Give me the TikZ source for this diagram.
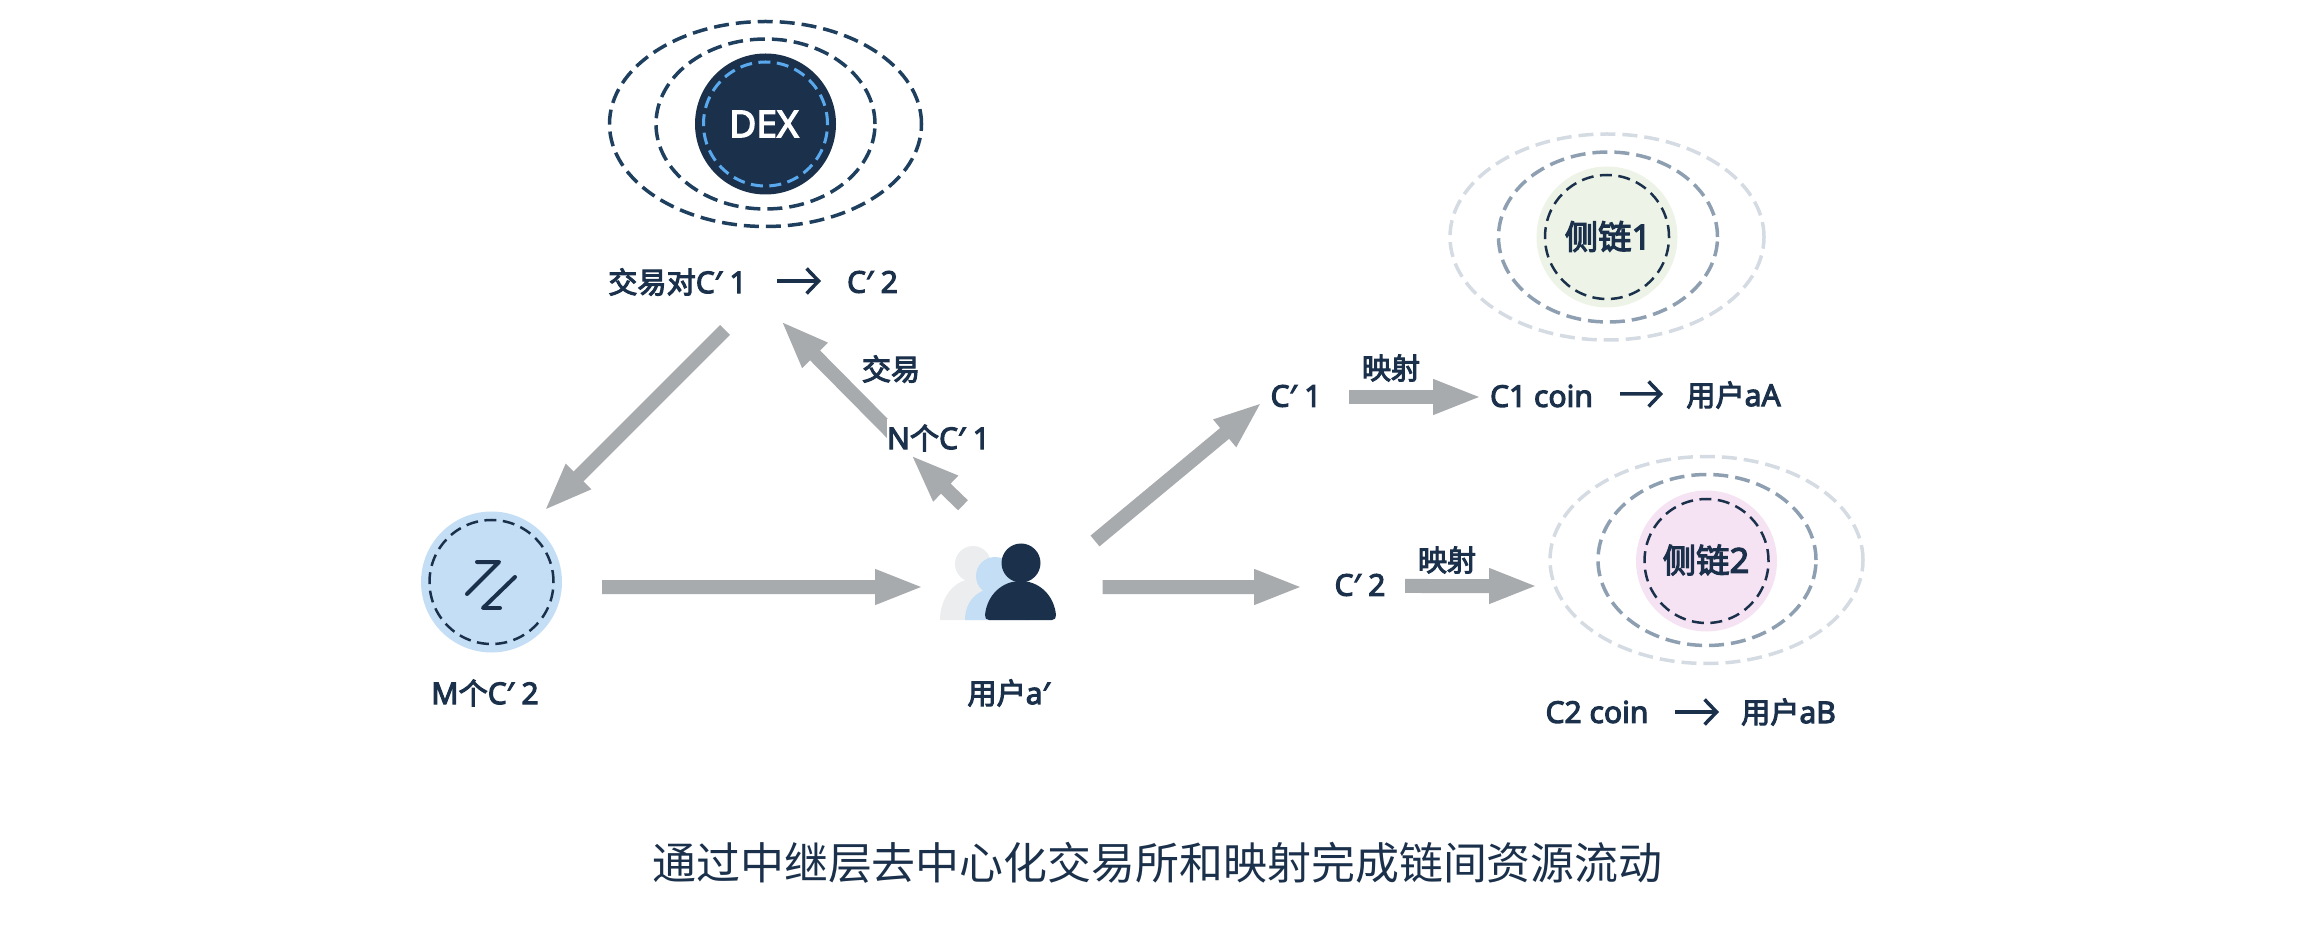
\documentclass[tikz,border=0pt]{standalone}
\usepackage{fontspec}
\setmainfont{Noto Sans}[Scale=1.03,FakeBold=3.5]
\newfontfamily\zhfont{Noto Sans CJK SC}[FakeBold=3.5]
\newfontfamily\titlefont{Noto Sans CJK SC}
\newcommand{\zh}[1]{{\zhfont #1}}
\newcommand{\pr}{′\kern2.2pt}
\usetikzlibrary{arrows.meta,positioning,backgrounds,shapes.geometric}
\definecolor{navy}{HTML}{1B314B}
\definecolor{ringnavy}{HTML}{1F3F5F}
\definecolor{ringblue}{HTML}{5AA9EE}
\definecolor{ringmid}{HTML}{8E9FB2}
\definecolor{ringpale}{HTML}{D5DBE2}
\definecolor{arrowgray}{HTML}{A8ABAE}
\definecolor{coinblue}{HTML}{C4DEF6}
\definecolor{sidegreen}{HTML}{EDF3E6}
\definecolor{sidepink}{HTML}{F5E2F2}
\definecolor{headgray}{HTML}{ECEDEE}
\tikzset{
    txt/.style={inner sep=0pt,text=navy,font=\fontsize{8.3pt}{9pt}\selectfont},
    sidetxt/.style={inner sep=0pt,text=navy,font=\fontsize{9.5pt}{11pt}\selectfont},
    disc/.style={circle,minimum size=1.41cm,inner sep=0pt,fill=#1},
    ring/.style={circle,minimum size=1.24cm,inner sep=0pt,draw=navy,line width=.025cm,dash pattern=on .12cm off .065cm},
    oval/.style={ellipse,inner sep=0pt,draw=#1,line width=.035cm,dash pattern=on .15cm off .07cm},
    bigarrow/.style={draw=arrowgray,line width=.14cm,shorten >=-.03cm,-{Triangle[length=.49cm,width=.32cm]}},
    thinarrow/.style={draw=navy,line width=.035cm,-{Straight Barb[length=.12cm,width=.25cm]}},
}
\begin{document}
\begin{tikzpicture}
\useasboundingbox (0,0) rectangle (23.09,9.29);

%DEX
\node[oval=ringnavy,minimum width=3.12cm,minimum height=2.05cm] (dexoval1) at (7.655,8.05) {};
\node[oval=ringnavy,minimum width=2.19cm,minimum height=1.70cm] (dexoval2) at (7.655,8.05) {};
\node[disc=navy] (dex) at (7.655,8.05) {};
\node[ring,draw=ringblue,line width=.03cm] (dexring) at (7.655,8.05) {};
\node[inner sep=0pt,text=white,font=\fontsize{10.25pt}{12pt}\selectfont] (dextxt) at (7.64,8.05) {DEX};
\node[txt] (pair1) at (6.775,6.47) {\zh{交易对}C\pr1};
\node[txt] (pair2) at (8.725,6.47) {C\pr2};

%coin
\node[disc=coinblue] (coin) at (4.915,3.47) {};
\node[ring] (coinring) at (4.915,3.47) {};
\draw[navy,line width=.04cm,line cap=round,line join=round] (4.77,3.67) -- (4.99,3.67) -- (4.67,3.35);
\draw[navy,line width=.04cm,line cap=round,line join=round] (5.15,3.52) -- (4.83,3.21) -- (5.00,3.21);
\node[txt] (coinlabel) at (4.85,2.36) {M\zh{个}C\pr2};

%user
\node[minimum width=1.16cm,minimum height=.76cm,inner sep=0pt] (user) at (9.98,3.465) {};
\fill[headgray] (9.73,3.65) circle (.18);
\fill[headgray] (9.40,3.09) .. controls (9.40,3.32) and (9.55,3.50) .. (9.73,3.50) .. controls (9.91,3.50) and (10.06,3.32) .. (10.06,3.09) -- cycle;
\fill[coinblue] (9.95,3.53) circle (.19);
\fill[coinblue] (9.65,3.09) .. controls (9.65,3.28) and (9.78,3.41) .. (9.97,3.41) .. controls (10.16,3.41) and (10.30,3.28) .. (10.30,3.09) -- cycle;
\fill[navy] (10.21,3.66) circle (.195);
\fill[navy] (9.85,3.14) .. controls (9.87,3.34) and (10.02,3.48) .. (10.205,3.48) .. controls (10.39,3.48) and (10.54,3.34) .. (10.56,3.14) .. controls (10.56,3.11) and (10.55,3.09) .. (10.52,3.09) -- (9.89,3.09) .. controls (9.86,3.09) and (9.85,3.11) .. (9.85,3.14) -- cycle;
\node[txt] (userlabel) at (10.085,2.36) {\zh{用户}a′};

%trade
\node[txt] (trade) at (8.91,5.60) {\zh{交易}};
\node[txt,fill=white,minimum height=.38cm] (nc) at (9.385,4.91) {N\zh{个}C\pr1};

%mapping
\node[txt] (c1) at (12.96,5.33) {C\pr1};
\node[txt] (c2) at (13.60,3.44) {C\pr2};
\node[txt] (map1) at (13.91,5.61) {\zh{映射}};
\node[txt] (map2) at (14.47,3.69) {\zh{映射}};
\node[txt] (c1coin) at (15.415,5.33) {C1 coin};
\node[txt] (c2coin) at (15.97,2.17) {C2 coin};
\node[txt] (usera) at (17.335,5.34) {\zh{用户}aA};
\node[txt] (userb) at (17.885,2.17) {\zh{用户}aB};

%side chain 1
\node[oval=ringpale,minimum width=3.14cm,minimum height=2.06cm] (side1oval1) at (16.07,6.92) {};
\node[oval=ringmid,minimum width=2.19cm,minimum height=1.70cm] (side1oval2) at (16.08,6.92) {};
\node[disc=sidegreen] (side1) at (16.07,6.92) {};
\node[ring] (side1ring) at (16.07,6.92) {};
\node[sidetxt] (side1txt) at (16.08,6.925) {\zh{侧链}1};

%side chain 2
\node[oval=ringpale,minimum width=3.13cm,minimum height=2.07cm] (side2oval1) at (17.065,3.69) {};
\node[oval=ringmid,minimum width=2.18cm,minimum height=1.71cm] (side2oval2) at (17.07,3.69) {};
\node[disc=sidepink] (side2) at (17.065,3.68) {};
\node[ring] (side2ring) at (17.065,3.68) {};
\node[sidetxt] (side2txt) at (17.06,3.69) {\zh{侧链}2};

%title
\node[inner sep=0pt,text=navy,font=\fontsize{12.5pt}{15pt}\selectfont] (title) at (11.575,.66) {\titlefont 通过中继层去中心化交易所和映射完成链间资源流动};

%ARROWS
\begin{pgfonlayer}{background}
\draw[bigarrow] ([shift={(-.417,0)}]nc.center) -- ([shift={(-.898,-.407)}]pair2.center);
\end{pgfonlayer}
\draw[bigarrow] ([shift={(.475,-.48)}]pair1.center) -- ([shift={(.545,.73)}]coin.center);
\draw[bigarrow] ([shift={(1.105,-.05)}]coin.center) -- ([shift={(-.77,-.045)}]user.center);
\draw[bigarrow] ([shift={(-.35,.772)}]user.center) -- ([shift={(-.258,-.187)}]nc.center);
\draw[bigarrow] ([shift={(.97,.415)}]user.center) -- ([shift={(-.36,-.08)}]c1.center);
\draw[bigarrow] ([shift={(1.045,-.045)}]user.center) -- ([shift={(-.60,-.02)}]c2.center);
\draw[bigarrow] ([shift={(.53,-.01)}]c1.center) -- ([shift={(-.625,-.01)}]c1coin.center);
\draw[bigarrow] ([shift={(.45,-.01)}]c2.center) -- ([shift={(-1.715,-.25)}]side2.center);
\draw[thinarrow] ([shift={(.995,.01)}]pair1.center) -- ([shift={(-.515,.01)}]pair2.center);
\draw[thinarrow] ([shift={(.785,.02)}]c1coin.center) -- ([shift={(-.705,.01)}]usera.center);
\draw[thinarrow] ([shift={(.78,0)}]c2coin.center) -- ([shift={(-.695,0)}]userb.center);
\end{tikzpicture}
\end{document}
